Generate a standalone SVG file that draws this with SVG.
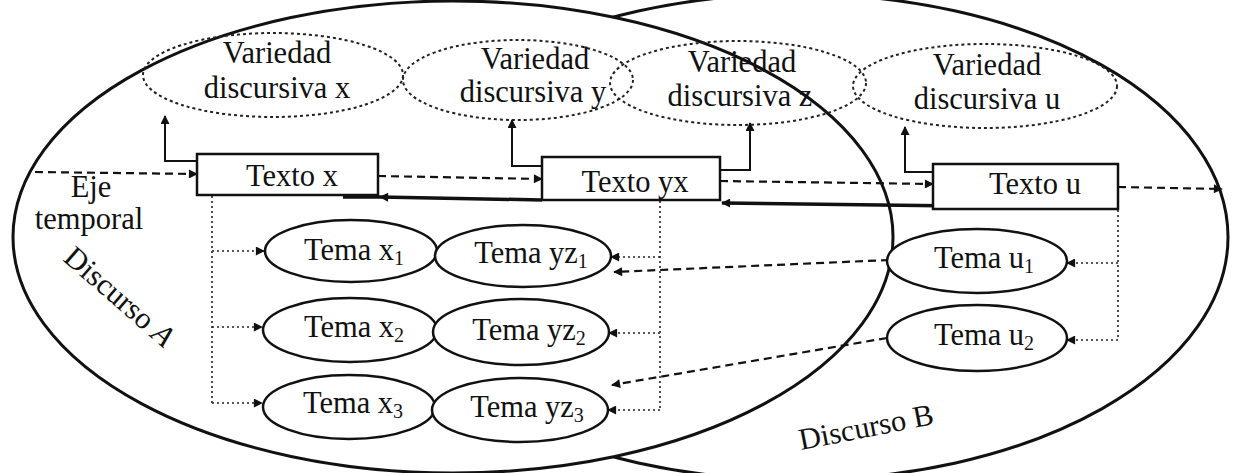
<svg xmlns="http://www.w3.org/2000/svg" width="1237" height="473" viewBox="0 0 1237 473">
<style>
text{font-family:"Liberation Serif","DejaVu Serif",serif;font-size:30.5px;fill:#111}
.big{fill:#fff;stroke:#111;stroke-width:3}
.var{fill:none;stroke:#222;stroke-width:2;stroke-dasharray:3 3}
.box{fill:#fff;stroke:#111;stroke-width:2.5}
.tema{fill:#fff;stroke:#111;stroke-width:2.5}
.dash{fill:none;stroke:#111;stroke-width:2.2;stroke-dasharray:8 5}
.dot{fill:none;stroke:#222;stroke-width:1.6;stroke-dasharray:2 3}
.solid{fill:none;stroke:#111;stroke-width:2}
.thick{fill:none;stroke:#111;stroke-width:3.5}
.sub{font-size:20px}
</style>
<defs>
<marker id="ah" viewBox="0 0 10 10" refX="9" refY="5" markerWidth="10" markerHeight="9" markerUnits="userSpaceOnUse" orient="auto">
<path d="M0 0 L10 5 L0 10 Z" fill="#111"/>
</marker>
</defs>
<g id="discursoB">
<ellipse class="big" cx="797" cy="237" rx="431" ry="243"/>
<text transform="translate(801 450) rotate(-11)">Discurso B</text>
</g>
<g id="discursoA">
<ellipse class="big" cx="453" cy="237" rx="440" ry="236"/>
<text transform="translate(62 260) rotate(41)">Discurso <tspan font-style="italic">A</tspan></text>
</g>
<g id="eje">
<text x="91" y="197" text-anchor="middle">Eje</text>
<text x="89" y="229" text-anchor="middle">temporal</text>
</g>
<g id="var-x">
<ellipse class="var" cx="273" cy="75" rx="130" ry="42"/>
<text x="277" y="63" text-anchor="middle">Variedad</text>
<text x="277" y="98" text-anchor="middle">discursiva x</text>
</g>
<g id="var-y">
<ellipse class="var" cx="518" cy="80" rx="115" ry="40"/>
<text x="535" y="69" text-anchor="middle">Variedad</text>
<text x="533" y="102" text-anchor="middle">discursiva y</text>
</g>
<g id="var-z">
<ellipse class="var" cx="738" cy="83" rx="128" ry="42"/>
<text x="742" y="72" text-anchor="middle">Variedad</text>
<text x="740" y="106" text-anchor="middle">discursiva z</text>
</g>
<g id="var-u">
<ellipse class="var" cx="985" cy="86" rx="132" ry="42"/>
<text x="987" y="75" text-anchor="middle">Variedad</text>
<text x="987" y="109" text-anchor="middle">discursiva u</text>
</g>
<g id="connectors">
<path class="dash" d="M35 172 L197 174" marker-end="url(#ah)"/>
<path class="dash" d="M378 176 L542 179" marker-end="url(#ah)"/>
<path class="dash" d="M720 181 L933 184" marker-end="url(#ah)"/>
<path class="dash" d="M1118 187 L1222 189" marker-end="url(#ah)"/>
<path class="thick" d="M1118 208 L722 203" marker-end="url(#ah)"/>
<path class="thick" d="M542 200 L380 197" marker-end="url(#ah)"/>
<path class="thick" d="M380 197 L343 197"/>
<path class="solid" d="M197 161 L165 161 L165 116" marker-end="url(#ah)"/>
<path class="solid" d="M542 166 L512 166 L512 120" marker-end="url(#ah)"/>
<path class="solid" d="M720 170 L750 170 L750 123" marker-end="url(#ah)"/>
<path class="solid" d="M933 172 L905 172 L905 127" marker-end="url(#ah)"/>
<path class="dot" d="M212 196 L212 403"/>
<path class="dot" d="M212 251 L264 251" marker-end="url(#ah)"/>
<path class="dot" d="M212 327 L262 327" marker-end="url(#ah)"/>
<path class="dot" d="M212 403 L262 403" marker-end="url(#ah)"/>
<path class="dot" d="M660 201 L660 410"/>
<path class="dot" d="M660 257 L611 257" marker-end="url(#ah)"/>
<path class="dot" d="M660 333 L609 333" marker-end="url(#ah)"/>
<path class="dot" d="M660 410 L608 410" marker-end="url(#ah)"/>
<path class="dot" d="M1118 210 L1118 340"/>
<path class="dot" d="M1118 263 L1067 263" marker-end="url(#ah)"/>
<path class="dot" d="M1118 340 L1067 340" marker-end="url(#ah)"/>
<path class="dash" d="M889 260 L614 272" marker-end="url(#ah)"/>
<path class="dash" d="M887 338 L612 385" marker-end="url(#ah)"/>
</g>
<g id="texto-x">
<rect class="box" x="197" y="154" width="181" height="41"/>
<text x="292" y="186" text-anchor="middle">Texto x</text>
</g>
<g id="texto-yx">
<rect class="box" x="542" y="157" width="178" height="43"/>
<text x="635" y="192" text-anchor="middle">Texto yx</text>
</g>
<g id="texto-u">
<rect class="box" x="933" y="164" width="185" height="45"/>
<text x="1035" y="194" text-anchor="middle">Texto u</text>
</g>
<g id="tema-x1">
<ellipse class="tema" cx="351" cy="251" rx="86" ry="31"/>
<text x="354" y="260" text-anchor="middle">Tema x<tspan class="sub" dy="5">1</tspan></text>
</g>
<g id="tema-x2">
<ellipse class="tema" cx="350" cy="330" rx="87" ry="32"/>
<text x="354" y="337" text-anchor="middle">Tema x<tspan class="sub" dy="5">2</tspan></text>
</g>
<g id="tema-x3">
<ellipse class="tema" cx="349" cy="407" rx="86" ry="32"/>
<text x="353" y="413" text-anchor="middle">Tema x<tspan class="sub" dy="5">3</tspan></text>
</g>
<g id="tema-yz1">
<ellipse class="tema" cx="523" cy="256" rx="88" ry="31"/>
<text x="531" y="263" text-anchor="middle">Tema yz<tspan class="sub" dy="5">1</tspan></text>
</g>
<g id="tema-yz2">
<ellipse class="tema" cx="521" cy="332" rx="88" ry="33"/>
<text x="529" y="340" text-anchor="middle">Tema yz<tspan class="sub" dy="5">2</tspan></text>
</g>
<g id="tema-yz3">
<ellipse class="tema" cx="520" cy="410" rx="88" ry="32"/>
<text x="527" y="417" text-anchor="middle">Tema yz<tspan class="sub" dy="5">3</tspan></text>
</g>
<g id="tema-u1">
<ellipse class="tema" cx="977" cy="261" rx="90" ry="32"/>
<text x="984" y="268" text-anchor="middle">Tema u<tspan class="sub" dy="5">1</tspan></text>
</g>
<g id="tema-u2">
<ellipse class="tema" cx="977" cy="338" rx="90" ry="33"/>
<text x="984" y="345" text-anchor="middle">Tema u<tspan class="sub" dy="5">2</tspan></text>
</g>
</svg>
